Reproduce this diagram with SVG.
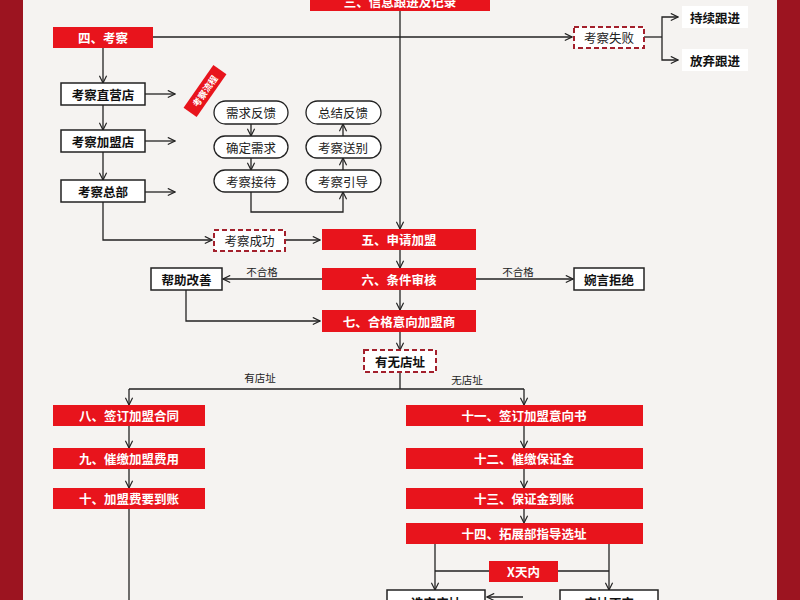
<svg xmlns="http://www.w3.org/2000/svg" width="800" height="600" viewBox="0 0 800 600">
<defs>
<marker id="arr" viewBox="0 0 10 10" refX="9" refY="5" markerWidth="9" markerHeight="9" markerUnits="userSpaceOnUse" orient="auto">
<polyline points="1,1 9,5 1,9" fill="none" stroke="#222" stroke-width="1.3"/>
</marker>
<style>
.red{fill:#e8141c;}
.rt{fill:#fff;font-family:"Noto Sans CJK SC","Noto Sans",sans-serif;font-weight:bold;font-size:12.5px;text-anchor:middle;dominant-baseline:central;}
.box{fill:#fff;stroke:#222;stroke-width:1.5;}
.bt{fill:#111;font-family:"Noto Sans CJK SC","Noto Sans",sans-serif;font-weight:bold;font-size:12.5px;text-anchor:middle;dominant-baseline:central;}
.pill{fill:#fff;stroke:#222;stroke-width:1.3;}
.pt{fill:#222;font-family:"Noto Sans CJK SC","Noto Sans",sans-serif;font-size:12.5px;text-anchor:middle;dominant-baseline:central;}
.dash{fill:#fff;stroke:#a3202c;stroke-width:2;stroke-dasharray:5,3;}
.lbl{fill:#222;font-family:"Noto Sans CJK SC","Noto Sans",sans-serif;font-size:10.5px;text-anchor:middle;dominant-baseline:central;}
.c{fill:none;stroke:#222;stroke-width:1.3;}
.ca{fill:none;stroke:#222;stroke-width:1.3;marker-end:url(#arr);}
</style>
</defs>
<rect x="0" y="0" width="800" height="600" fill="#f5f3f1"/>
<rect x="0" y="0" width="23" height="600" fill="#9c1420"/>
<rect x="777" y="0" width="23" height="600" fill="#9c1420"/>

<g id="connectors">
<path class="ca" d="M400,11 V229"/>
<path class="ca" d="M153,37 H572"/>
<path class="c" d="M644,37 H662"/>
<path class="ca" d="M662,37 V17 H678"/>
<path class="ca" d="M662,37 V60 H678"/>
<path class="ca" d="M103,48 V83"/>
<path class="ca" d="M103,105 V130"/>
<path class="ca" d="M103,152 V180"/>
<path class="ca" d="M145,94 H175"/>
<path class="ca" d="M145,141 H175"/>
<path class="ca" d="M145,192 H175"/>
<path class="ca" d="M103,202 V240 H212"/>
<path class="ca" d="M285,240 H320"/>
<path class="ca" d="M251,124 V136"/>
<path class="ca" d="M251,158 V170"/>
<path class="ca" d="M251,192 V212 H343 V192"/>
<path class="ca" d="M343,170 V158"/>
<path class="ca" d="M343,136 V124"/>
<path class="ca" d="M400,250 V268"/>
<path class="ca" d="M322,279 H223"/>
<path class="ca" d="M476,279 H573"/>
<path class="ca" d="M186,290 V321 H320"/>
<path class="ca" d="M400,290 V310"/>
<path class="ca" d="M400,332 V350"/>
<path class="c" d="M400,372 V389 M129,389 H524"/>
<path class="ca" d="M129,389 V405"/>
<path class="ca" d="M524,389 V405"/>
<path class="ca" d="M129,426 V448"/>
<path class="ca" d="M129,469 V488"/>
<path class="c" d="M129,509 V600"/>
<path class="ca" d="M524,426 V448"/>
<path class="ca" d="M524,469 V488"/>
<path class="ca" d="M524,509 V523"/>
<path class="ca" d="M435,544 V590"/>
<path class="ca" d="M609,544 V590"/>
<path class="c" d="M435,571 H489 M558,571 H609"/>
<path class="ca" d="M523,597 H487"/>
<text class="lbl" x="262" y="271">不合格</text>
<text class="lbl" x="518" y="271">不合格</text>
<text class="lbl" x="260" y="377">有店址</text>
<text class="lbl" x="467" y="379">无店址</text>
</g>

<g id="n3"><rect class="red" x="310" y="-10" width="180" height="21"/><text class="rt" x="400" y="1">三、信息跟进及记录</text></g>
<g id="n4"><rect class="red" x="53" y="27" width="100" height="21"/><text class="rt" x="103" y="37.5">四、考察</text></g>
<g id="fail"><rect class="dash" x="574" y="27" width="70" height="21"/><text class="pt" x="609" y="37.5">考察失败</text></g>
<g id="keep"><rect x="682" y="6" width="66" height="22" fill="#fff"/><text class="bt" x="715" y="17">持续跟进</text></g>
<g id="quit"><rect x="682" y="49" width="66" height="22" fill="#fff"/><text class="bt" x="715" y="60">放弃跟进</text></g>
<g id="direct"><rect class="box" x="61" y="83" width="84" height="22"/><text class="bt" x="103" y="94">考察直营店</text></g>
<g id="join"><rect class="box" x="61" y="130" width="84" height="22"/><text class="bt" x="103" y="141">考察加盟店</text></g>
<g id="hq"><rect class="box" x="61" y="180" width="84" height="22"/><text class="bt" x="103" y="191">考察总部</text></g>
<g id="tag" transform="translate(205,91) rotate(-55)"><rect class="red" x="-26" y="-8" width="52" height="16"/><text class="rt" x="0" y="0" style="font-size:9px">考察流程</text></g>
<g id="p1"><rect class="pill" x="214" y="101" width="74" height="23" rx="11.5"/><text class="pt" x="251" y="112.5">需求反馈</text></g>
<g id="p2"><rect class="pill" x="214" y="136" width="74" height="22" rx="11"/><text class="pt" x="251" y="147">确定需求</text></g>
<g id="p3"><rect class="pill" x="214" y="170" width="74" height="22" rx="11"/><text class="pt" x="251" y="181">考察接待</text></g>
<g id="p4"><rect class="pill" x="306" y="101" width="75" height="23" rx="11.5"/><text class="pt" x="343" y="112.5">总结反馈</text></g>
<g id="p5"><rect class="pill" x="306" y="136" width="75" height="22" rx="11"/><text class="pt" x="343" y="147">考察送别</text></g>
<g id="p6"><rect class="pill" x="306" y="170" width="75" height="22" rx="11"/><text class="pt" x="343" y="181">考察引导</text></g>
<g id="ok"><rect class="dash" x="214" y="230" width="71" height="21"/><text class="pt" x="249.5" y="240.5">考察成功</text></g>
<g id="n5"><rect class="red" x="322" y="229" width="154" height="21"/><text class="rt" x="399" y="239.5">五、申请加盟</text></g>
<g id="n6"><rect class="red" x="322" y="268" width="154" height="22"/><text class="rt" x="399" y="279">六、条件审核</text></g>
<g id="help"><rect class="box" x="151" y="268" width="71" height="22"/><text class="bt" x="186.5" y="279">帮助改善</text></g>
<g id="reject"><rect class="box" x="574" y="268" width="70" height="22"/><text class="bt" x="609" y="279">婉言拒绝</text></g>
<g id="n7"><rect class="red" x="322" y="310" width="154" height="22"/><text class="rt" x="399" y="321">七、合格意向加盟商</text></g>
<g id="site"><rect class="dash" x="364" y="350" width="72" height="22"/><text class="bt" x="400" y="361">有无店址</text></g>
<g id="n8"><rect class="red" x="53" y="405" width="152" height="21"/><text class="rt" x="129" y="415.5">八、签订加盟合同</text></g>
<g id="n9"><rect class="red" x="53" y="448" width="152" height="21"/><text class="rt" x="129" y="458.5">九、催缴加盟费用</text></g>
<g id="n10"><rect class="red" x="53" y="488" width="152" height="21"/><text class="rt" x="129" y="498.5">十、加盟费要到账</text></g>
<g id="n11"><rect class="red" x="406" y="405" width="237" height="21"/><text class="rt" x="524" y="415.5">十一、签订加盟意向书</text></g>
<g id="n12"><rect class="red" x="406" y="448" width="237" height="21"/><text class="rt" x="524" y="458.5">十二、催缴保证金</text></g>
<g id="n13"><rect class="red" x="406" y="488" width="237" height="21"/><text class="rt" x="524" y="498.5">十三、保证金到账</text></g>
<g id="n14"><rect class="red" x="406" y="523" width="237" height="21"/><text class="rt" x="524" y="533.5">十四、拓展部指导选址</text></g>
<g id="xdays"><rect class="red" x="489" y="561" width="69" height="21"/><text class="rt" x="523.5" y="571.5">X天内</text></g>
<g id="chosen"><rect class="box" x="387" y="590" width="98" height="24"/><text class="bt" x="436" y="602">选定店址</text></g>
<g id="unsure"><rect class="box" x="560" y="590" width="98" height="24"/><text class="bt" x="609" y="602">店址不定</text></g>
</svg>
